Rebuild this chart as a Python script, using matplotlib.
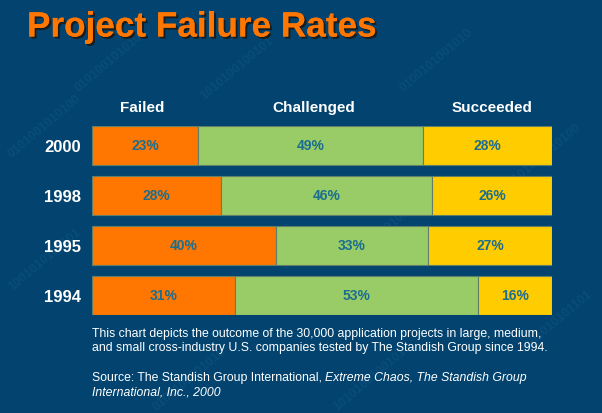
import numpy as np
import matplotlib
matplotlib.use('Agg')
import matplotlib.pyplot as plt
import matplotlib.patheffects as pe

# Dane z wykresu (Standish Group)
years = ['2000', '1998', '1995', '1994']
failed = [23, 28, 40, 31]
challenged = [49, 46, 33, 53]
succeeded = [28, 26, 27, 16]
series_names = ['Failed', 'Challenged', 'Succeeded']

bg = '#02446f'
colors = ['#ff7600', '#99cc66', '#ffcc00']
label_color = '#1b6e8e'

plt.rcParams['font.family'] = ['Liberation Sans', 'DejaVu Sans']

fig = plt.figure(figsize=(6.02, 4.14), dpi=100)
fig.patch.set_facecolor(bg)

# tło z cyframi binarnymi (bardzo delikatne)
bg_ax = fig.add_axes([0, 0, 1, 1], zorder=0)
bg_ax.set_axis_off()
bin_strings = ['0101001010100', '1001010101101', '0100101001010', '1010100100101']
bin_pos = [(0.01, 0.62), (0.01, 0.30), (0.25, 0.01), (0.55, 0.01), (0.84, 0.55),
           (0.86, 0.15), (0.66, 0.78), (0.33, 0.76), (0.12, 0.78), (0.60, 0.40)]
for i, (x, y) in enumerate(bin_pos):
    bg_ax.text(x, y, bin_strings[i % 4], color='#0a4d7a', fontsize=9, rotation=40,
               fontweight='bold', transform=bg_ax.transAxes)

ax = fig.add_axes([92 / 602, 1 - 316 / 414, 460 / 602, 189 / 414], zorder=2)
ax.set_facecolor('none')

ypos = np.arange(len(years))[::-1]
data = [failed, challenged, succeeded]
left = np.zeros(len(years))
for vals, c in zip(data, colors):
    vals = np.array(vals, dtype=float)
    ax.barh(ypos, vals, left=left, height=0.78, color=c,
            edgecolor='#5f7f6a', linewidth=0.8, zorder=2)
    for y, l, v in zip(ypos, left, vals):
        ax.text(l + v / 2, y, f'{int(v)}%', ha='center', va='center',
                color=label_color, fontsize=10, fontweight='bold', zorder=3)
    left += vals

ax.set_xlim(0, 100)
ax.set_ylim(-0.39, 3.39)
ax.set_yticks(ypos)
ax.set_yticklabels(years, color='white', fontsize=12, fontweight='bold')
ax.tick_params(axis='y', length=0, pad=8)
ax.set_xticks([])
for s in ax.spines.values():
    s.set_visible(False)

# nagłówki kolumn
for x, name in zip([142, 314, 492], series_names):
    fig.text(x / 602, 1 - 108 / 414, name, color='white', fontsize=11,
             fontweight='bold', ha='center', va='center', zorder=3)

# tytuł
fig.text(27 / 602, 1 - 28 / 414, 'Project Failure Rates', color='#ff7600',
         fontsize=25.3, fontweight='bold', ha='left', va='center', zorder=3,
         path_effects=[pe.withSimplePatchShadow(offset=(1.5, -1.5),
                                                shadow_rgbFace='#1a1a1a', alpha=0.9),
                       pe.Normal()])

# opis
fs = 8.85
fig.text(92 / 602, 1 - 341 / 414,
         'This chart depicts the outcome of the 30,000 application projects in large, medium,\n'
         'and small cross-industry U.S. companies tested by The Standish Group since 1994.',
         color='white', fontsize=fs, ha='left', va='center', linespacing=1.2, zorder=3)
src = fig.text(92 / 602, 1 - 378 / 414, 'Source: The Standish Group International, ',
               color='white', fontsize=fs, ha='left', va='center', zorder=3)
fig.canvas.draw()
bb = src.get_window_extent().transformed(fig.transFigure.inverted())
fig.text(bb.x1, 1 - 378 / 414, 'Extreme Chaos, The Standish Group',
         color='white', fontsize=fs, style='italic', ha='left', va='center', zorder=3)
fig.text(92 / 602, 1 - 393 / 414, 'International, Inc., 2000',
         color='white', fontsize=fs, style='italic', ha='left', va='center', zorder=3)

fig.savefig('out.png', dpi=100, facecolor=bg)
